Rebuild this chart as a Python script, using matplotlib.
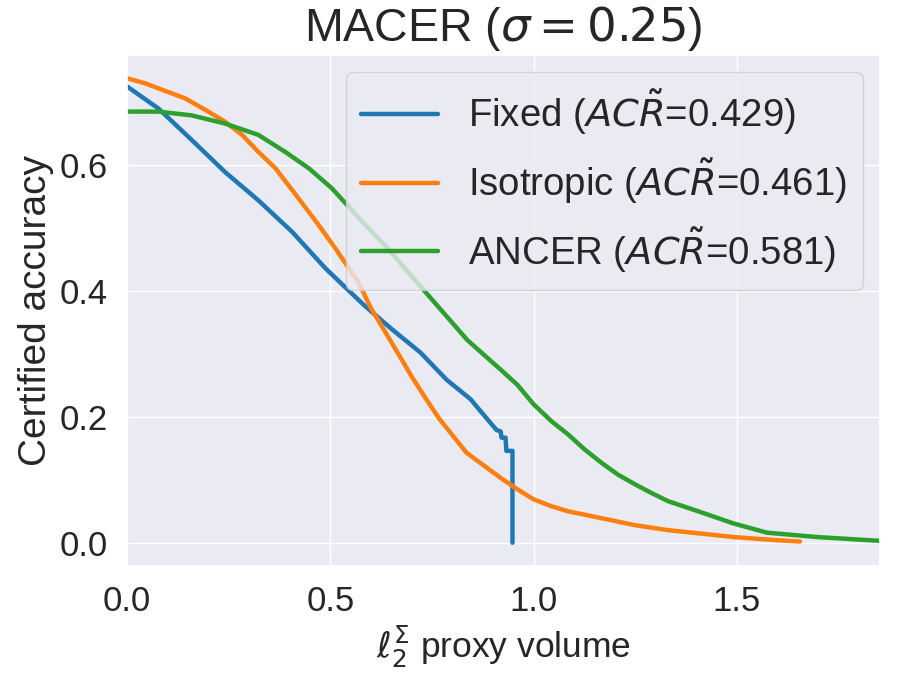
import numpy as np
import seaborn as sns
from matplotlib import pyplot as plt

# Curves (certified accuracy vs proxy volume).

fixed_x = [0.0, 0.077, 0.159, 0.241, 0.323, 0.406, 0.488, 0.582, 0.65, 0.722,
           0.786, 0.845, 0.867, 0.909, 0.919, 0.921, 0.931, 0.933, 0.948, 0.948]
fixed_y = [0.725, 0.690, 0.640, 0.589, 0.544, 0.494, 0.436, 0.378, 0.340, 0.302,
           0.259, 0.228, 0.211, 0.179, 0.177, 0.167, 0.167, 0.146, 0.146, 0.0]

iso_x = [0.0, 0.044, 0.143, 0.2, 0.241, 0.283, 0.323, 0.365, 0.397, 0.422,
         0.471, 0.512, 0.570, 0.598, 0.672, 0.702, 0.739, 0.768, 0.835, 0.919,
         0.960, 1.0, 1.044, 1.085, 1.167, 1.249, 1.331, 1.405, 1.493, 1.6, 1.655]
iso_y = [0.738, 0.730, 0.706, 0.685, 0.669, 0.648, 0.621, 0.595, 0.568, 0.547,
         0.505, 0.468, 0.413, 0.375, 0.295, 0.262, 0.225, 0.197, 0.143, 0.103,
         0.085, 0.069, 0.058, 0.050, 0.039, 0.028, 0.020, 0.015, 0.009, 0.004, 0.002]

ancer_x = [0.0, 0.077, 0.159, 0.241, 0.323, 0.389, 0.447, 0.504, 0.586, 0.638,
           0.729, 0.837, 0.919, 0.960, 1.0, 1.044, 1.085, 1.126, 1.167, 1.208,
           1.249, 1.290, 1.331, 1.405, 1.49, 1.574, 1.699, 1.852]
ancer_y = [0.685, 0.685, 0.679, 0.666, 0.648, 0.621, 0.595, 0.563, 0.505, 0.470,
           0.402, 0.322, 0.275, 0.251, 0.220, 0.193, 0.172, 0.148, 0.127, 0.108,
           0.093, 0.079, 0.066, 0.050, 0.031, 0.016, 0.009, 0.003]

labels = [r"Fixed ($AC\tilde{R}$=0.429)",
          r"Isotropic ($AC\tilde{R}$=0.461)",
          r"ANCER ($AC\tilde{R}$=0.581)"]

sns.set_theme(style="darkgrid")
plt.rcParams['font.family'] = ['Liberation Sans', 'DejaVu Sans']

fig = plt.figure(figsize=(8.99, 6.75), dpi=100)
ax = fig.add_axes([0.1413, 0.1615, 0.8376, 0.757])

ax.plot(fixed_x, fixed_y, lw=3.2, color='#1f77b4', label=labels[0], solid_capstyle='round')
ax.plot(iso_x, iso_y, lw=3.2, color='#ff7f0e', label=labels[1], solid_capstyle='round')
ax.plot(ancer_x, ancer_y, lw=3.2, color='#2ca02c', label=labels[2], solid_capstyle='round')

ax.set_xlim(0, max(ancer_x))
ax.set_xticks([0.0, 0.5, 1.0, 1.5])
ax.set_yticks([0.0, 0.2, 0.4, 0.6])
ax.tick_params(labelsize=25, pad=8)
ax.set_xlabel(r"$\ell_2^\Sigma$ proxy volume", fontsize=25.5, labelpad=4)
ax.set_ylabel("Certified accuracy", fontsize=28, labelpad=4)
ax.set_title(r"MACER ($\sigma=0.25$)", fontsize=33.5, pad=10)
ax.legend(loc='upper right', fontsize=27.6, handlelength=2.0, borderaxespad=0.45)

fig.savefig('out.png', dpi=100)
